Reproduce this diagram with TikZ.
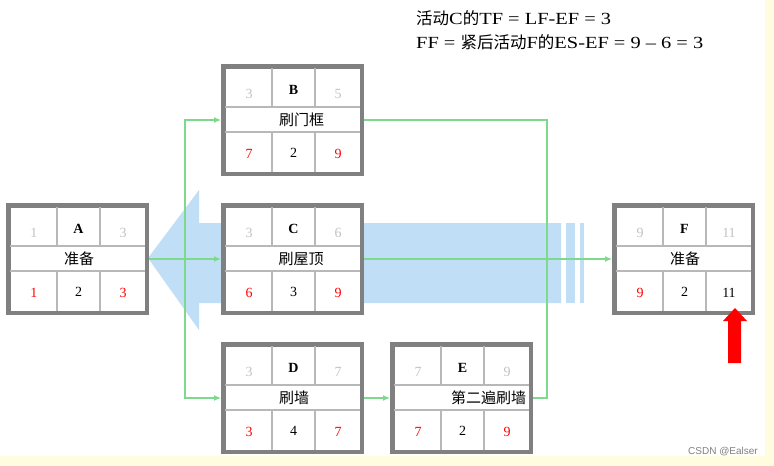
\documentclass[tikz,border=0pt]{standalone}
\usepackage{fontspec}
\setmainfont{Liberation Serif}
\setsansfont{Liberation Sans}
\newfontfamily\cjk{Noto Sans CJK SC}
\newfontfamily\notefont[FakeStretch=1.2]{Liberation Serif}
\usetikzlibrary{calc,arrows.meta}
\definecolor{boxgray}{HTML}{808080}
\definecolor{cellgray}{HTML}{B8B8B8}
\definecolor{dimgray}{HTML}{C2C2C2}
\definecolor{flowgreen}{RGB}{125,218,140}
\definecolor{floatblue}{RGB}{192,223,246}
\definecolor{paperyellow}{RGB}{255,252,224}

% grid and numbers of one activity box
\newcommand{\actcells}[7]{%
  \draw[cellLine] ($(#1.north west)+(4,43)$) -- ($(#1.north west)+(139,43)$);
  \draw[cellLine] ($(#1.north west)+(4,68)$) -- ($(#1.north west)+(139,68)$);
  \draw[cellLine] ($(#1.north west)+(51,4)$) -- ($(#1.north west)+(51,43)$);
  \draw[cellLine] ($(#1.north west)+(94,4)$) -- ($(#1.north west)+(94,43)$);
  \draw[cellLine] ($(#1.north west)+(51,68)$) -- ($(#1.north west)+(51,108)$);
  \draw[cellLine] ($(#1.north west)+(94,68)$) -- ($(#1.north west)+(94,108)$);
  \node[dimNum]    (#1es) at ($(#1.north west)+(28,30)$)   {#2};
  \node[actLetter] (#1id) at ($(#1.north west)+(72.5,26)$) {#3};
  \node[dimNum]    (#1ef) at ($(#1.north west)+(117,30)$)  {#4};
  \node[redNum]    (#1ls) at ($(#1.north west)+(28,90)$)   {#5};
  \node[plainNum]  (#1d)  at ($(#1.north west)+(72.5,89)$) {#6};
  \node[redNum]    (#1lf) at ($(#1.north west)+(117,90)$)  {#7};
}
\newcommand{\notecjk}[1]{{\cjk\fontsize{16.5}{19}\selectfont #1}}

\begin{document}
\begin{tikzpicture}[
    x=1pt, y=-1pt,
    actBox/.style={rectangle, draw=boxgray, fill=white, line width=4.5pt, minimum width=138.5pt, minimum height=107.5pt, inner sep=0pt, outer sep=2.25pt},
    cellLine/.style={draw=cellgray, line width=1.2pt},
    numText/.style={font=\fontsize{14}{16}\selectfont, inner sep=0pt},
    dimNum/.style={numText, text=dimgray},
    redNum/.style={numText, text=red},
    plainNum/.style={numText, text=black},
    actLetter/.style={numText, font=\fontsize{14}{16}\selectfont\bfseries},
    taskText/.style={font=\cjk\fontsize{15}{17}\selectfont, inner sep=0pt},
    flow/.style={draw=flowgreen, line width=1.2pt, -{Latex[length=7pt,width=6pt]}},
    flowPlain/.style={draw=flowgreen, line width=1.2pt},
    noteText/.style={font=\notefont\fontsize{17}{20}\selectfont, anchor=west, inner sep=0pt},
    markText/.style={font=\sffamily\fontsize{10}{12}\selectfont, text=gray, anchor=east, inner sep=0pt}
]
    \useasboundingbox (0,0) rectangle (774,466);
    \fill[paperyellow] (0,0) rectangle (774,466);
    \fill[white] (0,0) rectangle (765,456);

    % float arrow
    \fill[floatblue] (148,258) -- (199,190) -- (199,223) -- (561,223) -- (561,303) -- (199,303) -- (199,330) -- cycle;
    \fill[floatblue] (566,223) rectangle (575,303);
    \fill[floatblue] (580,223) rectangle (584,303);

    \node[actBox] (A) at (77.5,259)  {};
    \node[actBox] (B) at (292.5,120) {};
    \node[actBox] (C) at (292.5,259) {};
    \node[actBox] (D) at (292.5,398) {};
    \node[actBox] (E) at (461.5,398) {};
    \node[actBox] (F) at (683.5,259) {};

    \actcells{A}{1}{A}{3}{1}{2}{3}
    \actcells{B}{3}{B}{5}{7}{2}{9}
    \actcells{C}{3}{C}{6}{6}{3}{9}
    \actcells{D}{3}{D}{7}{3}{4}{7}
    \actcells{E}{7}{E}{9}{7}{2}{9}
    \actcells{F}{9}{F}{11}{9}{2}{\color{black}11}

    \node[taskText] (At) at ([xshift=1.5pt]A.center) {准备};
    \node[taskText] (Bt) at ([xshift=9pt]B.center)   {刷门框};
    \node[taskText] (Ct) at ([xshift=8.5pt]C.center) {刷屋顶};
    \node[taskText] (Dt) at ([xshift=1.5pt]D.center) {刷墙};
    \node[taskText] (Et) at ([xshift=27pt]E.center)  {第二遍刷墙};
    \node[taskText] (Ft) at ([xshift=1.5pt]F.center) {准备};

    \coordinate (fork) at (185,259);
    \coordinate (join) at (547,259);

    \draw[flow] (A.east) -- (C.west);
    \draw[flow] (fork) |- (B.west);
    \draw[flow] (fork) |- (D.west);
    \draw[flow] (C.east) -- (F.west);
    \draw[flow] (D.east) -- (E.west);
    \draw[flowPlain] (B.east) -| (join);
    \draw[flowPlain] (E.east) -| (join);

    % red marker under F
    \fill[red] (735,308) -- (747,321) -- (741,321) -- (741,363) -- (728,363) -- (728,321) -- (723,321) -- cycle;

    \node[noteText] (note1) at (416,18) {\notecjk{活动}C\notecjk{的}TF = LF-EF = 3};
    \node[noteText] (note2) at (416,42) {FF = \notecjk{紧后活动}F\notecjk{的}ES-EF = 9 – 6 = 3};

    \node[markText] (mark) at (758,452) {CSDN @Ealser};
\end{tikzpicture}
\end{document}
